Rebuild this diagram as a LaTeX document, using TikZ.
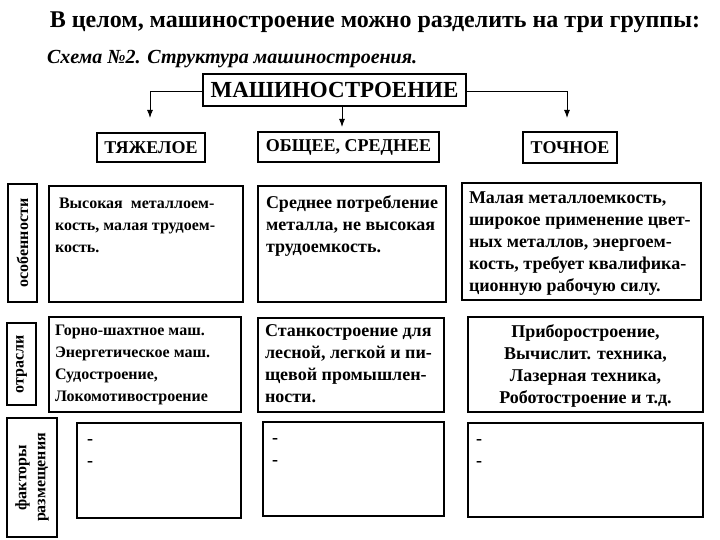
\documentclass[tikz,border=0pt]{standalone}
\usepackage{fontspec}
\setmainfont{Liberation Serif}
\usetikzlibrary{arrows.meta}
\newcommand\cellbox[3]{\parbox[t][#2][t]{#1}{#3}}
\begin{document}
\begin{tikzpicture}[x=1pt,y=-1pt,
  every node/.style={inner sep=0pt, outer sep=0pt},
  frame/.style={draw, line width=1.2pt, anchor=north west},
  colA/.style={font=\fontsize{16}{22}\selectfont\bfseries},
  colB/.style={font=\fontsize{18}{22}\selectfont\bfseries},
  head/.style={draw, line width=1.2pt, font=\fontsize{18}{20}\selectfont\bfseries},
  side/.style={draw, line width=1.2pt, rotate=90, align=center,
    font=\fontsize{16}{19}\selectfont\bfseries},
  link/.style={line width=1pt, -{Latex[length=8pt,width=6pt]}}]
\useasboundingbox (0,0) rectangle (720,540);
% titles
\node (title) at (375,22) {\fontsize{24}{28}\selectfont\bfseries В целом, машиностроение можно разделить на три группы:};
\node[anchor=west] (sub) at (47,59) {\fontsize{20}{22}\selectfont\bfseries\itshape Схема №2. Структура машиностроения.};
% top box
\node[head, minimum width=263pt, minimum height=32pt, font=\fontsize{23}{26}\selectfont\bfseries] (mash) at (334.5,90) {МАШИНОСТРОЕНИЕ};
\node[head, minimum width=108pt, minimum height=29pt] (heavy) at (151,147.5) {ТЯЖЕЛОЕ};
\node[head, minimum width=181pt, minimum height=30pt] (mid) at (348.5,147) {ОБЩЕЕ, СРЕДНЕЕ};
\node[head, minimum width=94pt, minimum height=31pt] (prec) at (570,147.5) {ТОЧНОЕ};
\coordinate (lt) at (150,118);
\coordinate (rt) at (567,118);
\coordinate (ct) at (342,127);
\draw[link] (mash.west |- 0,92) -| (lt);
\draw[link] (mash.east |- 0,92) -| (rt);
\draw[link] (mash.south -| ct) -- (ct);
% side labels
\node[side, minimum width=118pt, minimum height=29pt] (lab1) at (22.5,243) {особенности};
\node[side, minimum width=82pt, minimum height=29pt] (lab2) at (21.5,364) {отрасли};
\node[side, minimum width=119pt, minimum height=50pt] (lab3) at (32,477.5) {факторы\\размещения};
% row 1
\node[frame, colA, inner xsep=6pt, inner ysep=12pt] (b11) at (49,186) {\cellbox{182pt}{92pt}{\hspace*{4pt}Высокая\ \ металлоем-\\кость, малая трудоем-\\кость.}};
\node[frame, colB, inner xsep=8pt, inner ysep=10pt] (b12) at (258,186) {\cellbox{172pt}{96pt}{Среднее потребление\\металла, не высокая\\трудоемкость.}};
\node[frame, colB, inner xsep=7pt, inner ysep=9pt] (b13) at (462,183) {\cellbox{225pt}{99pt}{Малая металлоемкость,\\широкое применение цвет-\\ных металлов, энергоем-\\кость, требует квалифика-\\ционную рабочую силу.}};
% row 2
\node[frame, colA, inner xsep=6pt, inner ysep=8pt] (b21) at (49,317) {\cellbox{180pt}{79pt}{Горно-шахтное маш.\\Энергетическое маш.\\Судостроение,\\Локомотивостроение}};
\node[frame, colB, inner xsep=7pt, inner ysep=7pt] (b22) at (258,318) {\cellbox{172pt}{80pt}{Станкостроение для\\лесной, легкой и пи-\\щевой промышлен-\\ности.}};
\node[frame, colB, inner xsep=6pt, inner ysep=8pt] (b23) at (468,317) {\cellbox{223pt}{79pt}{\centering Приборостроение,\\Вычислит. техника,\\Лазерная техника,\\Роботостроение и т.д.}};
% row 3
\node[frame, colB, inner xsep=10pt, inner ysep=16pt] (b31) at (77,423) {\cellbox{144pt}{63pt}{-\\-}};
\node[frame, colB, inner xsep=9pt, inner ysep=16pt] (b32) at (263,422) {\cellbox{163pt}{62pt}{-\\-}};
\node[frame, colB, inner xsep=8pt, inner ysep=16pt] (b33) at (468,423) {\cellbox{219pt}{62pt}{-\\-}};
\end{tikzpicture}
\end{document}
